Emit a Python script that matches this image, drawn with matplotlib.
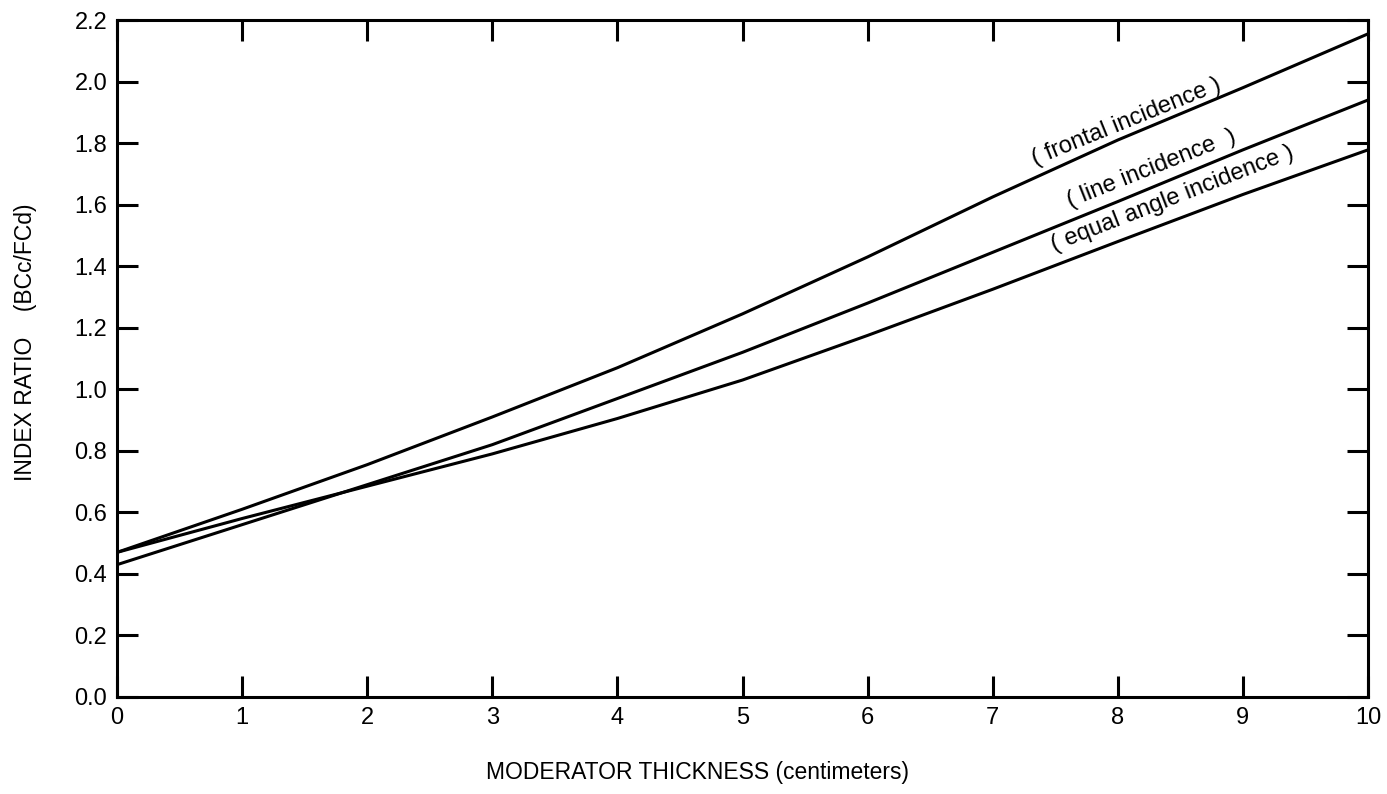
import matplotlib.pyplot as plt
import numpy as np

plt.rcParams['font.family'] = ['Liberation Sans', 'DejaVu Sans']

# Moderator thickness (cm)
thickness = [0, 1, 2, 3, 4, 5, 6, 7, 8, 9, 10]

# Index ratio
frontal = [0.47, 0.61, 0.755, 0.91, 1.07, 1.245, 1.43, 1.625, 1.81, 1.98, 2.155]
line_inc = [0.43, 0.56, 0.69, 0.82, 0.97, 1.12, 1.28, 1.445, 1.61, 1.778, 1.94]
equal_angle = [0.47, 0.58, 0.685, 0.79, 0.905, 1.03, 1.175, 1.325, 1.48, 1.633, 1.778]

# curve labels: text, x, y (bottom of text), rotation
curve_labels = [
    ("( frontal incidence )", 8.105, 1.836, 22),
    ("( line incidence  )", 8.30, 1.683, 21.6),
    ("( equal angle incidence )", 8.465, 1.586, 21.3),
]

fig = plt.figure(figsize=(13.87, 7.94), dpi=100)
ax = fig.add_axes([0.0844, 0.1222, 0.9019, 0.8526])

for series in (frontal, line_inc, equal_angle):
    ax.plot(thickness, series, color='black', linewidth=2.2, solid_capstyle='butt')

for txt, x, y, rot in curve_labels:
    ax.text(x, y, txt, fontsize=17, rotation=rot, rotation_mode='anchor',
            ha='center', va='bottom', color='black')

ax.set_xlim(0, 10)
ax.set_ylim(0, 2.2)
ax.set_xticks(range(0, 11))
ax.set_yticks(np.arange(0, 2.21, 0.2))
ax.set_yticklabels([f"{v:.1f}" for v in np.arange(0, 2.21, 0.2)])

ax.tick_params(axis='both', which='both', direction='in', length=15, width=2.2,
               top=True, right=True, labelsize=17, pad=7, color='black')
for s in ax.spines.values():
    s.set_linewidth(2.2)

ax.set_xlabel('MODERATOR THICKNESS (centimeters)', fontsize=16.5, va='center')
ax.xaxis.set_label_coords(0.464, -0.111)
ax.set_ylabel('INDEX RATIO    (BCc/FCd)', fontsize=16.5, va='center')
ax.yaxis.set_label_coords(-0.0735, 0.524)

fig.savefig('out.png', dpi=100)
